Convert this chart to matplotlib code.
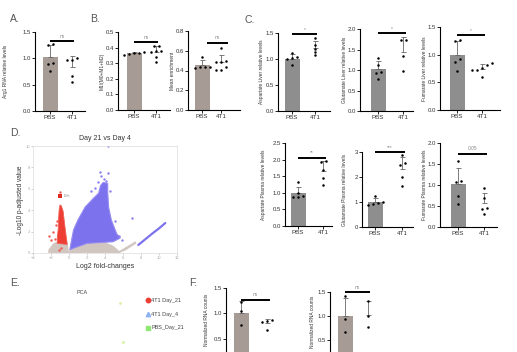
import numpy as np
import matplotlib.pyplot as plt
from matplotlib.lines import Line2D

plt.rcParams['font.family'] = ['Liberation Sans', 'DejaVu Sans']

W, H = 517, 352
groups = ['PBS', '4T1']

# ---- bar panels: individual animals ----
arg1_pbs = [1.27, 1.25, 0.92, 0.90, 0.76]
arg1_4t1 = [0.97, 1.00, 0.97, 0.66, 0.55]
m1_pbs = [0.370, 0.365, 0.360, 0.365, 0.355]
m1_4t1 = [0.41, 0.41, 0.373, 0.38, 0.38, 0.34, 0.31]
enrich_pbs = [0.54, 0.44, 0.44, 0.44, 0.43]
enrich_4t1 = [0.63, 0.49, 0.50, 0.49, 0.44, 0.41, 0.41]
asp_liver_pbs = [1.11, 1.03, 1.02, 1.00, 0.88]
asp_liver_4t1 = [1.40, 1.26, 1.20, 1.14, 1.08]
glu_liver_pbs = [1.30, 1.13, 0.94, 0.92, 0.78]
glu_liver_4t1 = [1.74, 1.72, 1.34, 0.98]
fum_liver_pbs = [1.26, 1.25, 0.92, 0.87, 0.71]
fum_liver_4t1 = [0.85, 0.81, 0.76, 0.73, 0.72, 0.60]
asp_plasma_pbs = [1.33, 1.00, 0.90, 0.87, 0.86]
asp_plasma_4t1 = [1.96, 1.93, 1.70, 1.45, 1.25]
glu_plasma_pbs = [1.25, 1.00, 0.95, 0.93, 0.90]
glu_plasma_4t1 = [2.87, 2.55, 2.50, 2.00, 1.65]
fum_plasma_pbs = [1.58, 1.08, 1.10, 0.75, 0.55]
fum_plasma_4t1 = [0.93, 0.70, 0.45, 0.43, 0.30]
rna1_pbs = [1.22, 1.04, 0.76]
rna1_4t1 = [0.87, 0.85, 0.83, 0.67]
rna2_pbs = [1.41, 0.93, 0.67]
rna2_4t1 = [1.32, 1.00, 0.77]

# ---- volcano plot outlines (log2FC, -log10 padj) ----
gray_fc = [-2.3, -2.3, -1.75, -1.0, -0.25, 0.0, 0.3, 2.0, 3.8, 4.9, 5.7, 5.7]
gray_p = [0.0, 0.3, 0.9, 1.2, 1.45, 0.1, 1.5, 1.2, 1.05, 0.7, 0.1, 0.0]
gray2_fc = [5.2, 6.2, 7.4, 7.5, 6.3, 5.6]
gray2_p = [0.0, 0.5, 1.1, 0.9, 0.25, 0.0]
red_fc = [-1.3, -1.3, -1.2, -1.15, -1.1, -1.0, -0.85, -0.65, -0.5, -0.35, -0.2]
red_p = [0.9, 1.5, 2.2, 3.3, 4.0, 4.5, 4.4, 3.9, 2.8, 1.8, 0.8]
red_pts_fc = [-2.2, -1.8, -1.6, -2.0, -1.5, -1.35, -0.9, -1.1, -1.0]
red_pts_p = [1.6, 2.0, 1.3, 1.2, 2.6, 3.0, 0.5, 0.3, 5.7]
blue_fc = [0.1, 0.5, 1.0, 1.8, 2.7, 3.3, 3.5, 3.8, 4.3, 4.3, 4.4, 4.7, 5.3, 5.7,
           4.9, 2.0, 0.5]
blue_p = [0.3, 2.15, 3.1, 4.3, 5.1, 5.6, 6.3, 6.6, 6.5, 5.7, 4.3, 3.1, 1.8, 1.4,
          1.05, 0.9, 0.45]
blue_pts_fc = [3.4, 3.6, 4.3, 3.9, 3.2, 4.1, 2.9, 4.5, 5.1, 5.6, 5.9, 2.4, 7.0, 4.3]
blue_pts_p = [7.6, 7.2, 7.5, 6.9, 6.6, 6.7, 6.1, 5.8, 3.0, 1.6, 1.2, 5.8, 3.3, 10.0]
streak_fc = [7.7, 8.5, 9.3, 10.0, 10.7]
streak_p = [0.75, 1.3, 1.85, 2.3, 2.8]
dhh = (-1.05, 5.3)

# ---- PCA ----
pca_pc1 = [30, 33]
pca_pc2 = [21.5, -19.5]

fig = plt.figure(figsize=(W / 100, H / 100), dpi=100)


def rect(x0, x1, ytop, ybot):
    return [x0 / W, 1 - ybot / H, (x1 - x0) / W, (ybot - ytop) / H]


def spread(vals, thr, dx):
    vals = np.asarray(vals, dtype=float)
    order = np.argsort(vals)
    off = np.zeros(len(vals))
    clusters = [[order[0]]]
    for i in order[1:]:
        if vals[i] - vals[clusters[-1][-1]] < thr:
            clusters[-1].append(i)
        else:
            clusters.append([i])
    for c in clusters:
        n = len(c)
        off[c] = (np.arange(n) - (n - 1) / 2) * dx
    return off


def bar_panel(xa, xr, cp, ct, y0, yt, ymax, yticks, pbs, t41, color, ylabel, lx,
              sig, sig_y, sig_x=(0, 1.1), tickfmt='{:.1f}', xlabels=True, ly=None):
    ax = fig.add_axes(rect(xa, xr, yt, y0))
    unit = ct - cp
    ax.set_xlim(-(cp - xa) / unit, 1 + (xr - ct) / unit)
    ax.set_ylim(0, ymax)
    means = [np.mean(pbs), np.mean(t41)]
    sds = [np.std(pbs, ddof=1), np.std(t41, ddof=1)]
    ax.bar([0, 1], means, width=15 / unit, color=[color, 'white'], zorder=1)
    for i in range(2):
        ax.errorbar(i, means[i], yerr=[[0], [sds[i]]], color='#666666', lw=0.6,
                    capsize=1.8, capthick=0.6, zorder=2)
    thr = 3.0 * ymax / (y0 - yt)
    for i, vals in enumerate([pbs, t41]):
        off = spread(vals, thr, 5 / unit)
        ax.plot(i + off, vals, 'o', color='black', ms=1.8, mew=0, zorder=3,
                clip_on=False)
    ax.plot(sig_x, [sig_y, sig_y], color='black', lw=1.4, solid_capstyle='butt',
            clip_on=False)
    ax.text(np.mean(sig_x), sig_y + 0.03 * ymax, sig, ha='center', va='bottom',
            fontsize=3.5, color='#888888')
    for s in ['top', 'right']:
        ax.spines[s].set_visible(False)
    for s in ['left', 'bottom']:
        ax.spines[s].set_linewidth(0.8)
    ax.set_xticks([0, 1])
    if xlabels:
        ax.set_xticklabels(groups, fontsize=4.5, color='#333333')
    else:
        ax.set_xticklabels([])
    ax.set_yticks(yticks)
    ax.set_yticklabels([tickfmt.format(t) for t in yticks], fontsize=4.3,
                       color='#333333')
    ax.tick_params(length=2, width=0.6, pad=1)
    if ly is None:
        ly = (y0 + yt) / 2
    fig.text(lx / W, 1 - ly / H, ylabel, rotation=90, ha='center',
             va='center', fontsize=3.5, color='#333333')
    return ax


brown = '#a79b95'
grey = '#8e8e8e'

bar_panel(35, 85, 50, 72, 111, 32, 1.5, [0, 0.5, 1.0, 1.5], arg1_pbs, arg1_4t1,
          brown, 'Arg1 RNA relative levels', 6, 'ns', 1.33)
bar_panel(118, 170, 134, 156, 110, 32, 0.5, [0, 0.1, 0.2, 0.3, 0.4, 0.5],
          m1_pbs, m1_4t1, brown, 'M1/(M0+M1+M2)', 102, 'ns', 0.435)
bar_panel(188, 240, 202, 221, 110, 31, 0.8, [0, 0.2, 0.4, 0.6, 0.8],
          enrich_pbs, enrich_4t1, brown, 'Mean enrichment', 173, 'ns', 0.68,
          sig_x=(0.25, 1.35))
bar_panel(278, 330, 292, 315, 111, 33, 1.5, [0, 0.5, 1.0, 1.5], asp_liver_pbs,
          asp_liver_4t1, grey, 'Aspartate Liver relative levels', 262, '*', 1.48)
bar_panel(360, 413, 378, 403, 111, 29, 2.0, [0, 0.5, 1.0, 1.5, 2.0],
          glu_liver_pbs, glu_liver_4t1, grey, 'Glutamate Liver relative levels',
          344, '*', 1.9)
bar_panel(440, 500, 457, 482, 110, 27, 1.5, [0, 0.5, 1.0, 1.5], fum_liver_pbs,
          fum_liver_4t1, grey, 'Fumarate Liver relative levels', 425, '*', 1.35)
bar_panel(285, 332, 298, 323, 226, 143, 2.5, [0, 0.5, 1.0, 1.5, 2.0, 2.5],
          asp_plasma_pbs, asp_plasma_4t1, grey, 'Aspartate Plasma relative levels',
          264, '**', 2.05)
bar_panel(362, 413, 375, 402, 227, 152, 3.0, [0, 1, 2, 3], glu_plasma_pbs,
          glu_plasma_4t1, grey, 'Glutamate Plasma relative levels', 344, '***', 3.0,
          tickfmt='{:.0f}')
bar_panel(440, 497, 458, 484, 227, 143, 2.0, [0, 0.5, 1.0, 1.5, 2.0],
          fum_plasma_pbs, fum_plasma_4t1, grey, 'Fumarate Plasma relative levels',
          424, '0.05', 1.74)
bar_panel(226, 282, 241, 267, 364, 288, 1.5, [0.5, 1.0, 1.5], rna1_pbs,
          rna1_4t1, brown, 'Normalized RNA counts', 207, 'ns', 1.27, xlabels=False,
          ly=320)
bar_panel(330, 380, 345, 368, 364, 292, 1.5, [0.5, 1.0, 1.5], rna2_pbs,
          rna2_4t1, brown, 'Normalized RNA counts', 312, 'ns', 1.5, xlabels=False,
          ly=322)

# ---- D: volcano ----
ax = fig.add_axes(rect(33, 177, 146, 253))
ax.fill(gray_fc, gray_p, color='#d2c7c0', lw=0)
ax.fill(gray2_fc, gray2_p, color='#d2c7c0', lw=0)
ax.fill(blue_fc, blue_p, color='#7d72ee', lw=0.8, ec='#958cf0')
ax.scatter(blue_pts_fc, blue_pts_p, s=3, color='#8a80ee', lw=0)
ax.plot(streak_fc, streak_p, color='#7d72ee', lw=1.6, solid_capstyle='round')
ax.fill(red_fc, red_p, color='#ee3d33', lw=0.6, ec='#f06058')
ax.scatter(red_pts_fc, red_pts_p, s=3, color='#f05a52', lw=0)
ax.scatter([dhh[0]], [dhh[1]], s=7, color='#dd2a22', marker='s', lw=0)
ax.text(dhh[0] + 0.45, dhh[1], 'Dhh', fontsize=2.5, color='#888888', va='center')
ax.set_xlim(-4, 12)
ax.set_ylim(0, 10)
ax.set_xticks(range(-4, 13, 2))
ax.set_yticks(range(0, 11, 2))
ax.tick_params(labelsize=3, colors='#aaaaaa', length=1.2, width=0.4, pad=1)
for s in ax.spines.values():
    s.set_color('#dddddd')
    s.set_linewidth(0.5)
ax.set_title('Day 21 vs Day 4', fontsize=5, color='#333333', pad=4)
ax.set_xlabel('Log2 fold-changes', fontsize=5, color='#333333', labelpad=2)
fig.text(21 / W, 1 - 200 / H, '-Log10 p-adjusted value', rotation=90,
         ha='center', va='center', fontsize=4.7, color='#333333')

# ---- E: PCA ----
ax = fig.add_axes(rect(40, 140, 295, 352))
ax.set_xlim(-50, 50)
ax.set_ylim(-30, 30)
ax.axis('off')
ax.scatter(pca_pc1, pca_pc2, s=4, color='#d8f0a0', lw=0)
fig.text(82 / W, 1 - 292 / H, 'PCA', fontsize=4, color='#444444', ha='center',
         va='center')
handles = [
    Line2D([], [], marker='o', ls='', color='#ee3d33', ms=3.2, label='4T1 Day_21'),
    Line2D([], [], marker='^', ls='', color='#8cb2f0', ms=3.2, label='4T1 Day_4'),
    Line2D([], [], marker='s', ls='', color='#8fe873', ms=3.2, label='PBS_Day_21'),
]
fig.legend(handles=handles, loc='upper left',
           bbox_to_anchor=(143 / W, 1 - 296 / H), frameon=False, fontsize=4,
           labelspacing=1.55, handlelength=0.9, handletextpad=0.2,
           labelcolor='#444444', borderaxespad=0)

# ---- panel letters ----
for txt, x, y in [('A.', 15, 19), ('B.', 95, 19), ('C.', 250, 20), ('D.', 15, 133),
                  ('E.', 15, 283), ('F.', 193, 283)]:
    fig.text(x / W, 1 - y / H, txt, fontsize=7.5, color='#555555', ha='center',
             va='center')

fig.savefig('out.png', dpi=100)
